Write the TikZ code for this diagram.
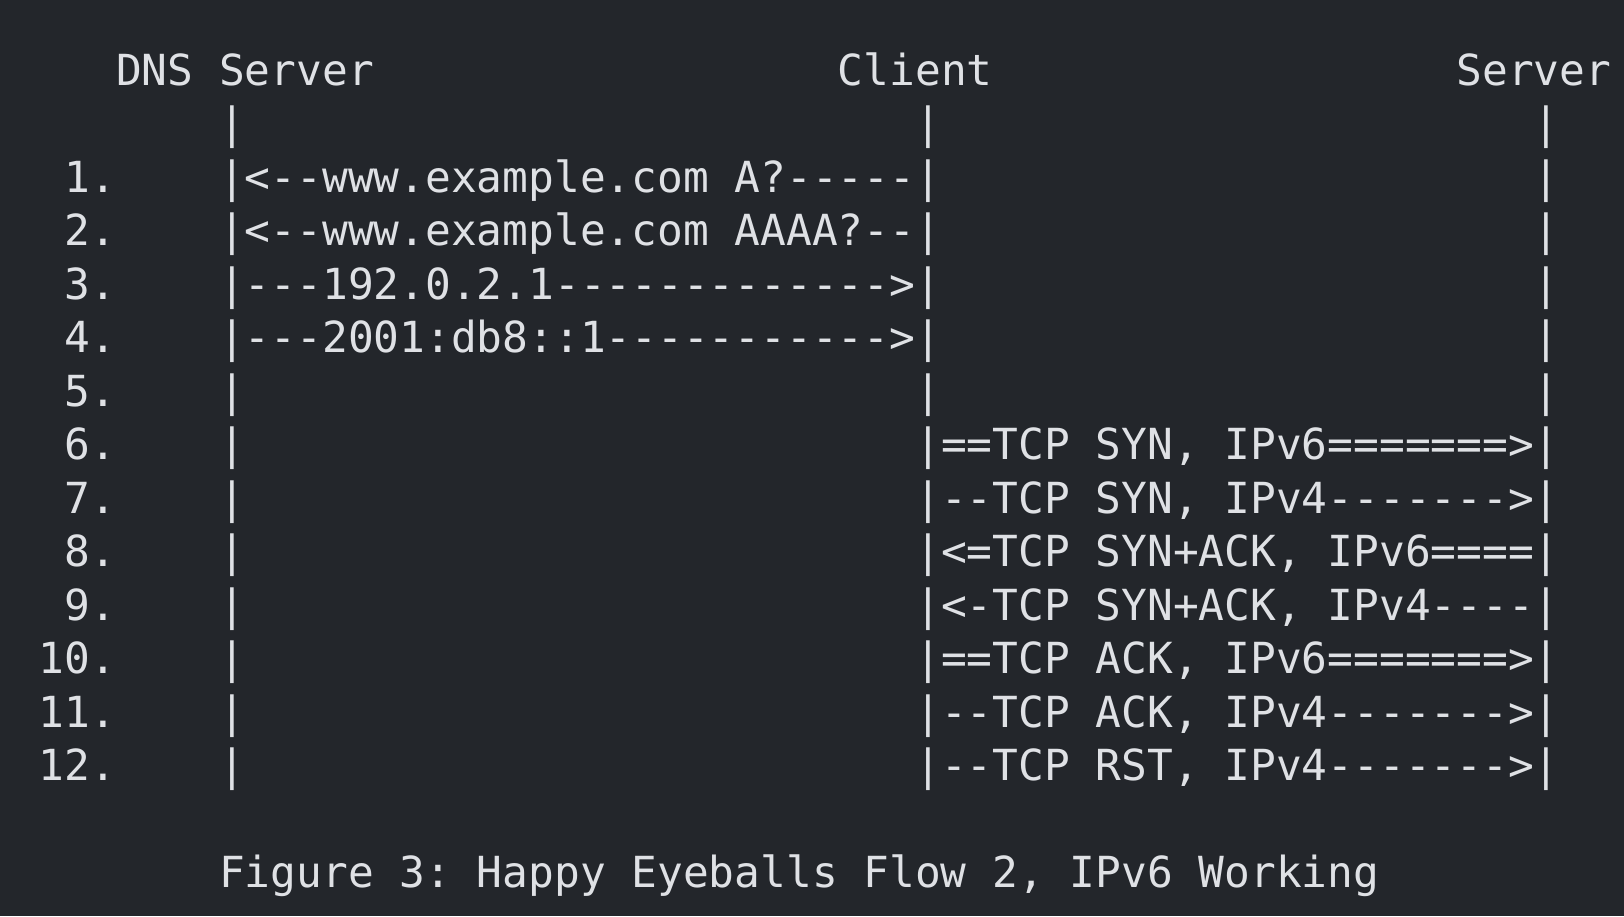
\documentclass[tikz,border=0pt]{standalone}
\usepackage{fontspec}
\setmonofont{DejaVu Sans Mono}
\definecolor{bgcol}{HTML}{23262B}
\definecolor{txtcol}{HTML}{DFE1E5}
\newcommand{\colx}[1]{38.7+25.78*#1}
\newcommand{\rowy}[1]{85+53.5*#1}
\tikzset{
  asc/.style={anchor=base west, inner sep=0pt, outer sep=0pt, text=txtcol,
    font=\ttfamily\fontsize{42.82}{53.5}\selectfont}
}
\begin{document}
\begin{tikzpicture}[x=1pt,y=-1pt]
\fill[bgcol] (0,0) rectangle (1624,916);
\useasboundingbox (0,0) rectangle (1624,916);
% header
\node[asc] (hdns) at ({\colx{3}},{\rowy{0}}) {DNS Server};
\node[asc] (hcli) at ({\colx{31}},{\rowy{0}}) {Client};
\node[asc] (hsrv) at ({\colx{55}},{\rowy{0}}) {Server};
% lifeline start
\node[asc] (pd0) at ({\colx{7}},{\rowy{1}}) {|};
\node[asc] (pc0) at ({\colx{34}},{\rowy{1}}) {|};
\node[asc] (ps0) at ({\colx{58}},{\rowy{1}}) {|};
% steps 1-4 (DNS)
\node[asc] (n1) at ({\colx{1}},{\rowy{2}}) {1.};
\node[asc] (m1) at ({\colx{7}},{\rowy{2}}) {|<--www.example.com A?-----|};
\node[asc] (ps1) at ({\colx{58}},{\rowy{2}}) {|};
\node[asc] (n2) at ({\colx{1}},{\rowy{3}}) {2.};
\node[asc] (m2) at ({\colx{7}},{\rowy{3}}) {|<--www.example.com AAAA?--|};
\node[asc] (ps2) at ({\colx{58}},{\rowy{3}}) {|};
\node[asc] (n3) at ({\colx{1}},{\rowy{4}}) {3.};
\node[asc] (m3) at ({\colx{7}},{\rowy{4}}) {|---192.0.2.1------------->|};
\node[asc] (ps3) at ({\colx{58}},{\rowy{4}}) {|};
\node[asc] (n4) at ({\colx{1}},{\rowy{5}}) {4.};
\node[asc] (m4) at ({\colx{7}},{\rowy{5}}) {|---2001:db8::1----------->|};
\node[asc] (ps4) at ({\colx{58}},{\rowy{5}}) {|};
% step 5
\node[asc] (n5) at ({\colx{1}},{\rowy{6}}) {5.};
\node[asc] (pd5) at ({\colx{7}},{\rowy{6}}) {|};
\node[asc] (pc5) at ({\colx{34}},{\rowy{6}}) {|};
\node[asc] (ps5) at ({\colx{58}},{\rowy{6}}) {|};
% steps 6-12 (TCP)
\node[asc] (n6) at ({\colx{1}},{\rowy{7}}) {6.};
\node[asc] (pd6) at ({\colx{7}},{\rowy{7}}) {|};
\node[asc] (t6) at ({\colx{34}},{\rowy{7}}) {|==TCP SYN, IPv6=======>|};
\node[asc] (n7) at ({\colx{1}},{\rowy{8}}) {7.};
\node[asc] (pd7) at ({\colx{7}},{\rowy{8}}) {|};
\node[asc] (t7) at ({\colx{34}},{\rowy{8}}) {|--TCP SYN, IPv4------->|};
\node[asc] (n8) at ({\colx{1}},{\rowy{9}}) {8.};
\node[asc] (pd8) at ({\colx{7}},{\rowy{9}}) {|};
\node[asc] (t8) at ({\colx{34}},{\rowy{9}}) {|<=TCP SYN+ACK, IPv6====|};
\node[asc] (n9) at ({\colx{1}},{\rowy{10}}) {9.};
\node[asc] (pd9) at ({\colx{7}},{\rowy{10}}) {|};
\node[asc] (t9) at ({\colx{34}},{\rowy{10}}) {|<-TCP SYN+ACK, IPv4----|};
\node[asc] (n10) at ({\colx{0}},{\rowy{11}}) {10.};
\node[asc] (pd10) at ({\colx{7}},{\rowy{11}}) {|};
\node[asc] (t10) at ({\colx{34}},{\rowy{11}}) {|==TCP ACK, IPv6=======>|};
\node[asc] (n11) at ({\colx{0}},{\rowy{12}}) {11.};
\node[asc] (pd11) at ({\colx{7}},{\rowy{12}}) {|};
\node[asc] (t11) at ({\colx{34}},{\rowy{12}}) {|--TCP ACK, IPv4------->|};
\node[asc] (n12) at ({\colx{0}},{\rowy{13}}) {12.};
\node[asc] (pd12) at ({\colx{7}},{\rowy{13}}) {|};
\node[asc] (t12) at ({\colx{34}},{\rowy{13}}) {|--TCP RST, IPv4------->|};
% caption
\node[asc] (cap) at ({\colx{7}},{\rowy{15}}) {Figure 3: Happy Eyeballs Flow 2, IPv6 Working};
\end{tikzpicture}
\end{document}
